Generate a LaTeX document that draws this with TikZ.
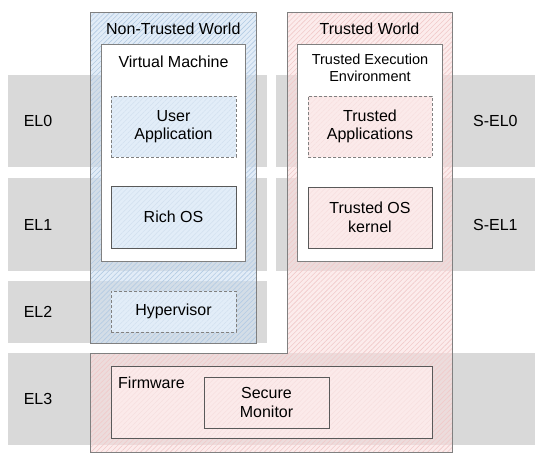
\documentclass[tikz,border=0pt]{standalone}
\usepackage{fontspec}
\setmainfont{Liberation Sans}
\usetikzlibrary{positioning,patterns.meta}

\definecolor{bandgray}{HTML}{D9D9D9}
\definecolor{ntblue}{HTML}{CFE0F1}
\definecolor{ntstripe}{HTML}{B3CBE4}
\definecolor{twpink}{HTML}{FADFDF}
\definecolor{twstripe}{HTML}{F1CACA}
\definecolor{boxblue}{HTML}{E2EDF8}
\definecolor{boxpink}{HTML}{FBEAEA}
\definecolor{edgegray}{HTML}{808080}
\definecolor{boxgray}{HTML}{595959}

\tikzset{
  band/.style={fill=bandgray, draw=none, inner sep=0pt, anchor=north west},
  ntfill/.style={preaction={fill=ntblue, fill opacity=0.6},
    pattern={Lines[angle=45, distance=3.5pt, line width=0.6pt]}, pattern color=ntstripe},
  twfill/.style={preaction={fill=twpink, fill opacity=0.6},
    pattern={Lines[angle=45, distance=3.5pt, line width=0.6pt]}, pattern color=twstripe},
  world/.style={draw=edgegray, line width=1pt, fill opacity=0.6, inner sep=0pt, anchor=north west},
  envbox/.style={draw=edgegray, fill=white, line width=1pt, inner sep=0pt, anchor=north west},
  swblue/.style={preaction={fill=boxblue},
    pattern={Lines[angle=45, distance=3.5pt, line width=0.5pt]}, pattern color=ntstripe!60},
  swpink/.style={preaction={fill=boxpink},
    pattern={Lines[angle=45, distance=3.5pt, line width=0.5pt]}, pattern color=twstripe!60},
  swbox/.style={draw=boxgray, line width=1pt, align=center, inner sep=0pt,
    font=\fontsize{16}{18.5}\selectfont},
  dashbox/.style={swbox, draw=edgegray, dash pattern=on 3pt off 2pt},
  lbl/.style={font=\fontsize{16}{18}\selectfont, align=center, inner sep=0pt}
}

\begin{document}
\begin{tikzpicture}[x=1pt, y=-1pt]

  \newcommand\BW{125pt};
  \newcommand\LW{259pt};

  \useasboundingbox (0,0) rectangle (540,459);

  %% exception level bands
  \node[band, minimum width=\LW, minimum height=92pt] (el0) at (8,75) {};
  \node[band, minimum width=\LW, minimum height=92pt] (sel0) at (276,75) {};
  \node[band, minimum width=\LW, minimum height=93pt] (el1) at (8,178) {};
  \node[band, minimum width=\LW, minimum height=93pt] (sel1) at (276,178) {};
  \node[band, minimum width=\LW, minimum height=62pt] (el2) at (8,281) {};
  \node[band, minimum width=527pt, minimum height=92pt] (el3) at (8,353) {};

  %% worlds
  \node[world, ntfill, minimum width=166pt, minimum height=331pt] (ntw) at (90,12) {};
  \draw[world, twfill] (287,12) -- (452,12) -- (452,452) -- (90,452)
    -- (90,353) -- (287,353) -- cycle;
  \coordinate (tw) at (369.5,12);

  \node[lbl, below=11pt of ntw.north] (ntwtxt) {Non-Trusted World};
  \node[lbl, below=11pt of tw] (twtxt) {Trusted World};

  %% VM and TEE
  \node[envbox, minimum width=144pt, minimum height=217pt] (vm) at (101,44) {};
  \node[envbox, minimum width=145pt, minimum height=217pt] (tee) at (297,44) {};
  \node[lbl, below=12pt of vm.north] (vmtxt) {Virtual Machine};
  \node[lbl, below=10pt of tee.north, font=\fontsize{14.5}{17}\selectfont] (teetxt)
    {Trusted Execution\\Environment};

  %% software
  \node[dashbox, swblue, minimum width=\BW, minimum height=61pt] (app) at (173.5,126.5) {User\\Application};
  \node[swbox, swblue, minimum width=\BW, minimum height=62pt] (richos) at (173.5,217) {Rich OS};
  \node[dashbox, swblue, minimum width=\BW, minimum height=41pt] (hyp) at (173.5,311.5) {Hypervisor};
  \node[dashbox, swpink, minimum width=124pt, minimum height=61pt] (tapp) at (370,126.5) {Trusted\\Applications};
  \node[swbox, swpink, minimum width=124pt, minimum height=61pt] (tos) at (370,217.5) {Trusted OS\\kernel};

  \node[swbox, swpink, minimum width=321pt, minimum height=72pt, anchor=north west] (fw) at (111,366) {};
  \node[lbl, anchor=north west] (fwtxt) at (118,377) {Firmware};
  \node[swbox, swpink, minimum width=\BW, minimum height=51pt] (mon) at (266.5,402.5) {Secure\\Monitor};

  %% level names
  \node[lbl] (el0txt) at ([xshift=30pt]el0.west) {EL0};
  \node[lbl] (el1txt) at ([xshift=30pt]el1.west) {EL1};
  \node[lbl] (el2txt) at ([xshift=30pt]el2.west) {EL2};
  \node[lbl] (el3txt) at ([xshift=30pt]el3.west) {EL3};
  \node[lbl] (sel0txt) at ([xshift=-40pt]sel0.east) {S-EL0};
  \node[lbl] (sel1txt) at ([xshift=-40pt]sel1.east) {S-EL1};
\end{tikzpicture}
\end{document}
